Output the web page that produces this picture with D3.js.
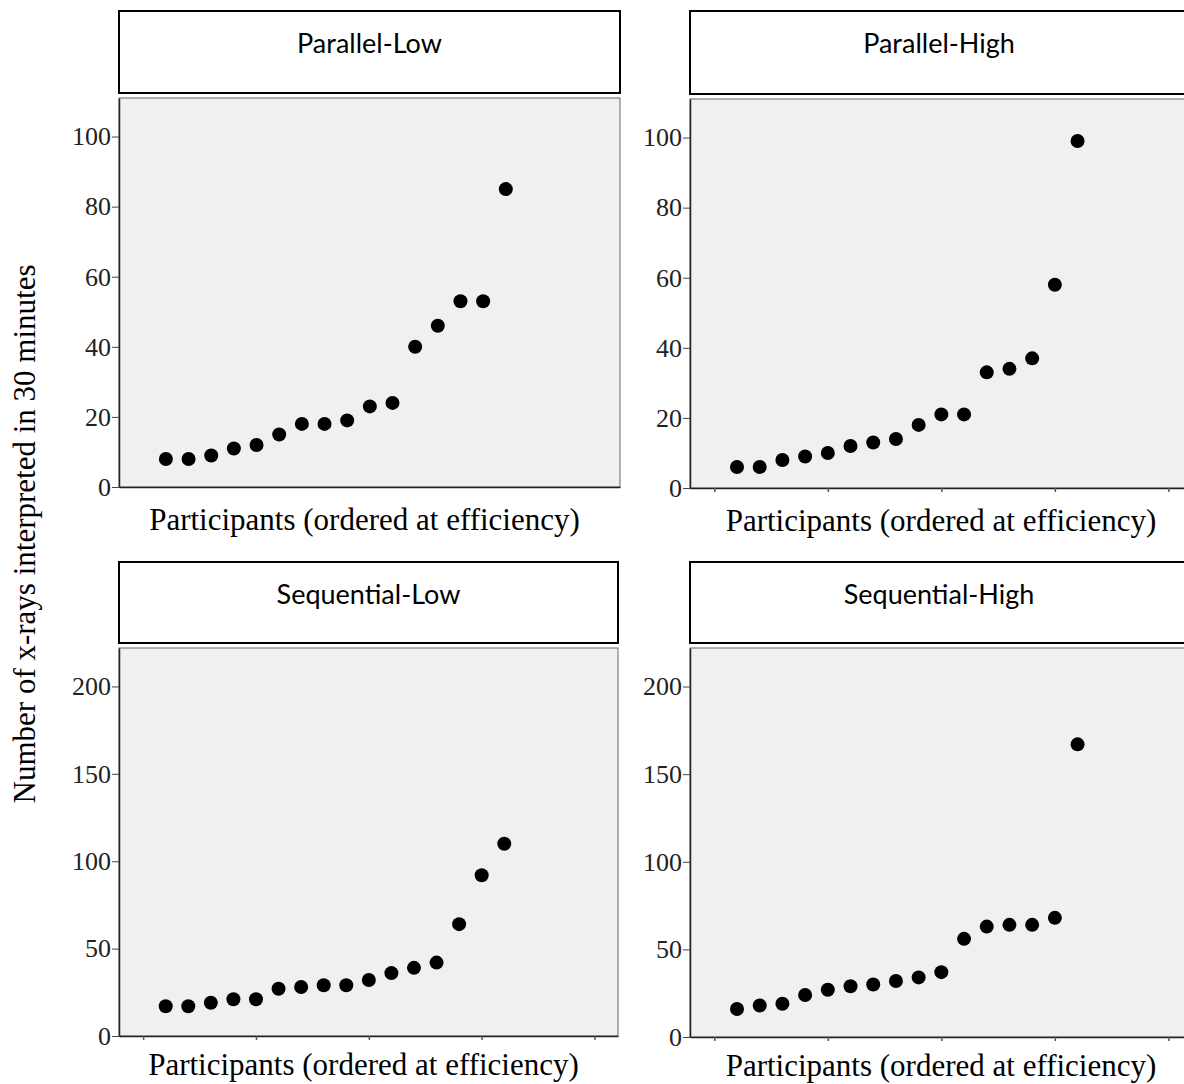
<!DOCTYPE html>
<html>
<head>
<meta charset="utf-8">
<script src="https://cdn.jsdelivr.net/npm/d3@7"></script>
<style>
  body { margin: 0; background: #fff; overflow: hidden; }
  svg { display: block; }
  .tick-label { font-family: "Liberation Serif", serif; font-size: 26px; fill: #222; }
  .axis-title { font-family: "Liberation Serif", serif; font-size: 31px; fill: #000; }
  .strip-label { font-family: Lato, "Open Sans", sans-serif; font-size: 27px; fill: #000; }
</style>
</head>
<body>
<div id="chart"></div>
<script>
// Data
const participants = [1, 2, 3, 4, 5, 6, 7, 8, 9, 10, 11, 12, 13, 14, 15, 16];
const panelNames = ["Parallel-Low", "Parallel-High", "Sequential-Low", "Sequential-High"];
const parallelLow = [8, 8, 9, 11, 12, 15, 18, 18, 19, 23, 24, 40, 46, 53, 53, 85];
const parallelHigh = [6, 6, 8, 9, 10, 12, 13, 14, 18, 21, 21, 33, 34, 37, 58, 99];
const sequentialLow = [17, 17, 19, 21, 21, 27, 28, 29, 29, 32, 36, 39, 42, 64, 92, 110];
const sequentialHigh = [16, 18, 19, 24, 27, 29, 30, 32, 34, 37, 56, 63, 64, 64, 68, 167];
const yTicksParallel = [0, 20, 40, 60, 80, 100];
const yTicksSequential = [0, 50, 100, 150, 200];
const xTicks = [0, 5, 10, 15, 20];

const width = 1184, height = 1084;

const svg = d3.select("#chart").append("svg")
    .attr("width", width)
    .attr("height", height);

// Panel layout
const panels = [
  { name: panelNames[0], values: parallelLow, ticks: yTicksParallel, yMax: 111,
    left: 119, top: 98, w: 501, h: 389, stripTop: 11, showXTicks: false },
  { name: panelNames[1], values: parallelHigh, ticks: yTicksParallel, yMax: 111,
    left: 690, top: 99, w: 502, h: 389, stripTop: 11, showXTicks: true },
  { name: panelNames[2], values: sequentialLow, ticks: yTicksSequential, yMax: 222,
    left: 119, top: 648, w: 499, h: 388, stripTop: 562, showXTicks: true },
  { name: panelNames[3], values: sequentialHigh, ticks: yTicksSequential, yMax: 222,
    left: 690, top: 648, w: 502, h: 389, stripTop: 562, showXTicks: true }
];

panels.forEach(p => {
  const g = svg.append("g").attr("transform", `translate(${p.left},${p.top})`);

  const x = d3.scaleLinear().domain([-1.07, 21.04]).range([0, p.w]);
  const y = d3.scaleLinear().domain([0, p.yMax]).range([p.h, 0]);

  // Strip with panel name
  svg.append("rect")
      .attr("x", p.left)
      .attr("y", p.stripTop)
      .attr("width", p.w)
      .attr("height", p.top - 5 - p.stripTop)
      .attr("fill", "#fff")
      .attr("stroke", "#000")
      .attr("stroke-width", 2);

  svg.append("text")
      .attr("class", "strip-label")
      .attr("x", p.left + p.w / 2 - (p.left > 600 ? 2 : 0))
      .attr("y", p.stripTop + 42)
      .attr("text-anchor", "middle")
      .text(p.name);

  // Plot background
  g.append("rect")
      .attr("width", p.w)
      .attr("height", p.h)
      .attr("fill", "#f0f0f0")
      .attr("stroke", "#666")
      .attr("stroke-width", 1);

  // Y axis
  const yAxis = g.append("g")
      .call(d3.axisLeft(y).tickValues(p.ticks).tickSize(7).tickSizeOuter(0).tickPadding(1));
  yAxis.select(".domain").attr("stroke", "#222").attr("stroke-width", 1.5);
  yAxis.selectAll(".tick line").attr("stroke", "#444");
  yAxis.selectAll(".tick text")
      .attr("class", "tick-label")
      .attr("font-family", null)
      .attr("font-size", null)
      .attr("fill", null);

  // X axis
  const xAxis = g.append("g")
      .attr("transform", `translate(0,${p.h})`)
      .call(d3.axisBottom(x).tickValues(p.showXTicks ? xTicks : []).tickSize(4).tickSizeOuter(0).tickFormat(""));
  xAxis.select(".domain").attr("stroke", "#222").attr("stroke-width", 1.5);
  xAxis.selectAll(".tick line").attr("stroke", "#555").attr("stroke-width", 1.5);

  // Points
  g.selectAll(".dot")
      .data(participants.map((d, i) => ({ idx: d, value: p.values[i] })))
      .enter().append("circle")
      .attr("class", "dot")
      .attr("cx", d => x(d.idx))
      .attr("cy", d => y(d.value))
      .attr("r", 7)
      .attr("fill", "#000");

  // X axis title
  svg.append("text")
      .attr("class", "axis-title")
      .attr("x", p.left + p.w / 2 - (p.left > 600 ? 0 : 5))
      .attr("y", p.top + p.h + (p.top < 300 ? 43 : 39))
      .attr("text-anchor", "middle")
      .text("Participants (ordered at efficiency)");
});

// Y axis title
svg.append("text")
    .attr("class", "axis-title")
    .attr("transform", "translate(35,534) rotate(-90)")
    .attr("text-anchor", "middle")
    .text("Number of x-rays interpreted in 30 minutes");
</script>
</body>
</html>
